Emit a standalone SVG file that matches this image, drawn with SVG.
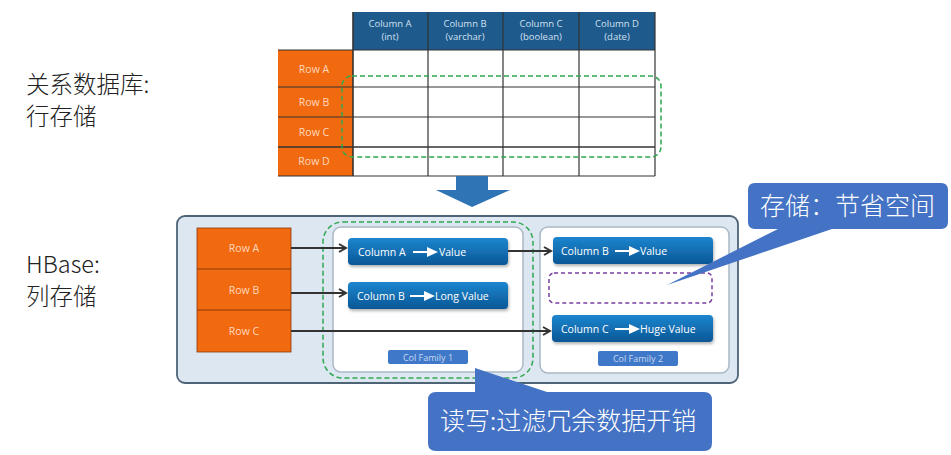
<svg xmlns="http://www.w3.org/2000/svg" width="951" height="455" viewBox="0 0 951 455">
<defs>
<linearGradient id="cellg" x1="0" y1="0" x2="0" y2="1">
<stop offset="0" stop-color="#1c86cf"/>
<stop offset="1" stop-color="#0b5796"/>
</linearGradient>
<filter id="sh" x="-10%" y="-20%" width="120%" height="160%">
<feDropShadow dx="1" dy="2" stdDeviation="1.5" flood-color="#000" flood-opacity="0.3"/>
</filter>
<marker id="ah" markerWidth="10" markerHeight="10" refX="8" refY="5" orient="auto" markerUnits="userSpaceOnUse">
<path d="M1,1 L8,5 L1,9" fill="none" stroke="#333" stroke-width="2"/>
</marker>
<symbol id="warr" viewBox="0 0 25 10">
<path d="M0,4 L14,4 L14,0 L25,5 L14,10 L14,6 L0,6 Z" fill="#fff"/>
</symbol>
</defs>
<style>
.lbl{font-family:"Noto Sans CJK SC","Noto Sans",sans-serif;font-size:23.5px;font-weight:300;fill:#222}
.hdr{font-family:"Open Sans","Noto Sans",sans-serif;font-size:9.5px;fill:#cfe0f0;text-anchor:middle}
.row{font-family:"Open Sans","Noto Sans",sans-serif;font-size:10.5px;fill:#ffd8bf;text-anchor:middle}
.cell{font-family:"Open Sans","Noto Sans",sans-serif;font-size:10.5px;fill:#fff}
.cf{font-family:"Open Sans","Noto Sans",sans-serif;font-size:9px;fill:#c8d8f0;text-anchor:middle}
.call{font-family:"Noto Sans CJK SC","Noto Sans",sans-serif;font-size:25px;font-weight:300;fill:#fff}
.grid{stroke:#333;stroke-width:1.2}
.conn{stroke:#333;stroke-width:2;fill:none;marker-end:url(#ah)}
</style>
<rect width="951" height="455" fill="#fff"/>

<g id="labels">
<text class="lbl" x="26" y="93">关系数据库:</text>
<text class="lbl" x="26" y="125">行存储</text>
<text class="lbl" x="26" y="273">HBase:</text>
<text class="lbl" x="26" y="305">列存储</text>
</g>

<g id="rdb-table">
<rect x="353" y="12" width="302" height="38" fill="#1f5a8c"/>
<rect x="278" y="50" width="75" height="126" fill="#f26a10"/>
<rect x="353" y="50" width="302" height="126" fill="#fff"/>
<g class="grid">
<line x1="278" y1="50" x2="655" y2="50"/>
<line x1="278" y1="87" x2="655" y2="87"/>
<line x1="278" y1="117" x2="655" y2="117"/>
<line x1="278" y1="147" x2="655" y2="147" stroke-width="1.6"/>
<line x1="278" y1="176" x2="655" y2="176"/>
<line x1="353" y1="12" x2="353" y2="176" stroke-width="1.6"/>
<line x1="428" y1="12" x2="428" y2="176"/>
<line x1="503" y1="12" x2="503" y2="176"/>
<line x1="579" y1="12" x2="579" y2="176"/>
<line x1="655" y1="12" x2="655" y2="176"/>
</g>
<text class="hdr" x="390" y="27">Column A</text><text class="hdr" x="390" y="40">(int)</text>
<text class="hdr" x="465" y="27">Column B</text><text class="hdr" x="465" y="40">(varchar)</text>
<text class="hdr" x="541" y="27">Column C</text><text class="hdr" x="541" y="40">(boolean)</text>
<text class="hdr" x="617" y="27">Column D</text><text class="hdr" x="617" y="40">(date)</text>
<text class="row" x="314" y="73">Row A</text>
<text class="row" x="314" y="106">Row B</text>
<text class="row" x="314" y="136">Row C</text>
<text class="row" x="314" y="165">Row D</text>
<rect x="342" y="76" width="319" height="81" rx="10" fill="none" stroke="#2fa84f" stroke-width="1.5" stroke-dasharray="5,3"/>
</g>

<g id="down-arrow">
<path d="M456,176 L488,176 L488,190 L510,190 L472,207 L436,190 L456,190 Z" fill="#2f75b5"/>
</g>

<g id="hbase">
<rect x="177" y="216" width="561" height="167" rx="8" fill="#dde7f2" stroke="#4d6477" stroke-width="1.8"/>
<g id="hbase-rows">
<rect x="197" y="228" width="94" height="124" fill="#f26a10" stroke="#8a3a08" stroke-width="0.8"/>
<line x1="197" y1="269" x2="291" y2="269" stroke="#8a3a08" stroke-width="1"/>
<line x1="197" y1="310" x2="291" y2="310" stroke="#8a3a08" stroke-width="1"/>
<text class="row" x="244" y="252" font-size="11.5">Row A</text>
<text class="row" x="244" y="294" font-size="11.5">Row B</text>
<text class="row" x="244" y="335" font-size="11.5">Row C</text>
</g>
<g id="col-family-1">
<rect x="333" y="227" width="190" height="145" rx="8" fill="#fff" stroke="#a9b8c6" stroke-width="1.5"/>
<rect x="388" y="350" width="80" height="14" rx="2" fill="#3f78c8"/>
<text class="cf" x="428" y="360.5">Col Family 1</text>
</g>
<g id="col-family-2">
<rect x="540" y="227" width="189" height="146" rx="8" fill="#fff" stroke="#a9b8c6" stroke-width="1.5"/>
<rect x="598" y="351" width="80" height="15" rx="2" fill="#3f78c8"/>
<text class="cf" x="638" y="362">Col Family 2</text>
</g>
<g id="cell-a-value">
<rect x="348" y="238" width="160" height="27" rx="4" fill="url(#cellg)" filter="url(#sh)"/>
<text class="cell" x="358" y="256">Column A</text>
<use href="#warr" x="413" y="247" width="25" height="10"/>
<text class="cell" x="439" y="256">Value</text>
</g>
<g id="cell-b-long">
<rect x="348" y="282" width="160" height="27" rx="4" fill="url(#cellg)" filter="url(#sh)"/>
<text class="cell" x="357" y="300">Column B</text>
<use href="#warr" x="410" y="291" width="25" height="10"/>
<text class="cell" x="435" y="300">Long Value</text>
</g>
<g id="cell-b-value">
<rect x="553" y="237" width="160" height="27" rx="4" fill="url(#cellg)" filter="url(#sh)"/>
<text class="cell" x="561" y="255">Column B</text>
<use href="#warr" x="615" y="246" width="25" height="10"/>
<text class="cell" x="640" y="255">Value</text>
</g>
<g id="empty-slot">
<rect x="549" y="273" width="163" height="30" rx="5" fill="none" stroke="#7a3fa0" stroke-width="1.5" stroke-dasharray="4,3"/>
</g>
<g id="cell-c-huge">
<rect x="552" y="315" width="161" height="27" rx="4" fill="url(#cellg)" filter="url(#sh)"/>
<text class="cell" x="561" y="333">Column C</text>
<use href="#warr" x="615" y="324" width="25" height="10"/>
<text class="cell" x="640" y="333">Huge Value</text>
</g>
<g id="read-highlight">
<rect x="323" y="222" width="210" height="156" rx="20" fill="none" stroke="#2fa84f" stroke-width="1.5" stroke-dasharray="5,3"/>
</g>
</g>

<g id="connectors">
<line class="conn" x1="291" y1="248" x2="346" y2="248"/>
<line class="conn" x1="291" y1="293" x2="346" y2="293"/>
<line class="conn" x1="508" y1="251" x2="551" y2="251"/>
<line class="conn" x1="291" y1="331" x2="550" y2="331"/>
</g>

<g id="callout-storage">
<path d="M755,183 L941,183 Q948,183 948,190 L948,222 Q948,229 941,229 L832,229 L667,285 L778,229 L755,229 Q748,229 748,222 L748,190 Q748,183 755,183 Z" fill="#4472c4"/>
<text class="call" x="760" y="215">存储：节省空间</text>
</g>

<g id="callout-rw">
<path d="M475,368 L547,392 L704,392 Q712,392 712,400 L712,443 Q712,451 704,451 L436,451 Q428,451 428,443 L428,400 Q428,392 436,392 L475,392 Z" fill="#4472c4"/>
<text class="call" x="440" y="430">读写:过滤冗余数据开销</text>
</g>
</svg>
